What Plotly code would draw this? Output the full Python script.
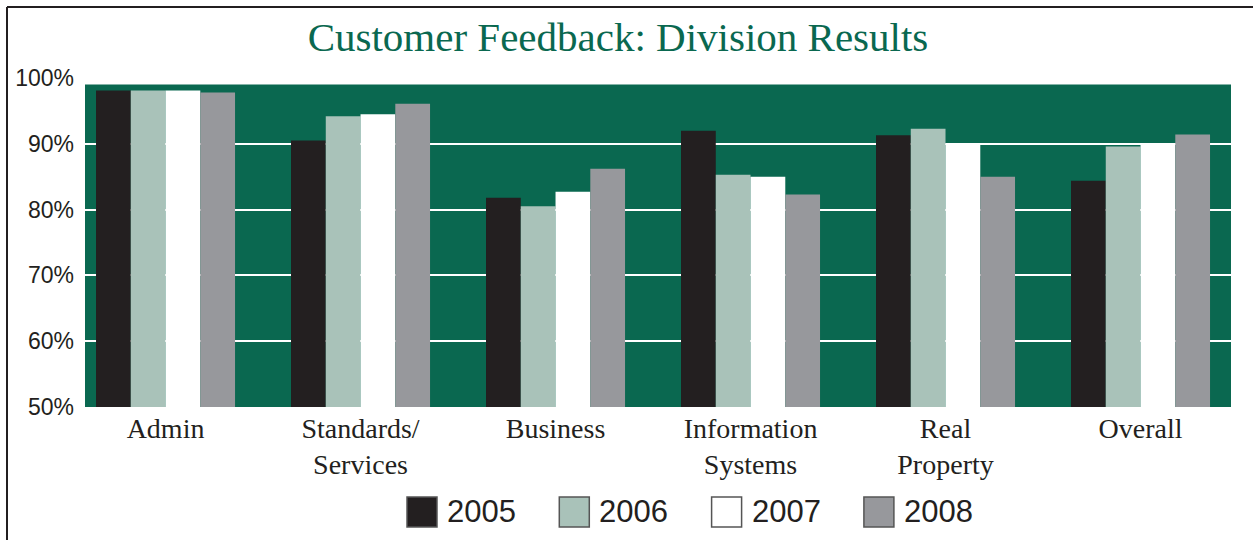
import plotly.graph_objects as go

# data
divisions = ["Admin", "Standards/Services", "Business", "Information Systems", "Real Property", "Overall"]
division_labels = ["Admin", "Standards/<br>Services", "Business",
                   "Information<br>Systems", "Real<br>Property", "Overall"]
years = ["2005", "2006", "2007", "2008"]
y2005 = [98.1, 90.5, 81.8, 92.0, 91.3, 84.4]
y2006 = [98.1, 94.2, 80.5, 85.3, 92.3, 89.6]
y2007 = [98.1, 94.5, 82.7, 85.0, 90.0, 90.0]
y2008 = [97.8, 96.1, 86.2, 82.3, 85.0, 91.4]
series = [y2005, y2006, y2007, y2008]
tick_vals = [50, 60, 70, 80, 90, 100]
tick_text = ["50%", "60%", "70%", "80%", "90%", "100%"]
panel_top = 99.0

colors = ["#231f20", "#a9c2b9", "#ffffff", "#97989c"]
green = "#0a6850"
ink = "#231f20"

W, H = 1253, 540
ml, mr, mt, mb = 85, 22, 78, 133
pw, ph = W - ml - mr, H - mt - mb

def px_x(x):
    return (x - ml) / pw

def px_y(y):
    return (H - mb - y) / ph

fig = go.Figure()
for name, vals, col in zip(years, series, colors):
    fig.add_trace(go.Bar(x=divisions, y=vals, name=name, marker=dict(color=col, line=dict(width=0)),
                         showlegend=False))

shapes = [
    dict(type="rect", xref="paper", yref="y", x0=0, x1=1, y0=50, y1=panel_top,
         fillcolor=green, line=dict(width=0), layer="below"),
    dict(type="line", xref="paper", yref="paper", x0=px_x(7), x1=px_x(W), y0=px_y(7), y1=px_y(7),
         line=dict(color=ink, width=2)),
    dict(type="line", xref="paper", yref="paper", x0=px_x(7), x1=px_x(7), y0=px_y(7), y1=px_y(H),
         line=dict(color=ink, width=2)),
]

annotations = []
# legend drawn by hand for big swatches
for i, (name, col) in enumerate(zip(years, colors)):
    left = 407 + 152.3 * i
    shapes.append(dict(type="rect", xref="paper", yref="paper",
                       x0=px_x(left), x1=px_x(left + 30), y0=px_y(497), y1=px_y(527),
                       fillcolor=col, line=dict(color="#555555", width=1.5)))
    annotations.append(dict(x=px_x(left + 38), xref="paper", y=px_y(512), yref="paper",
                            text=name, showarrow=False, xanchor="left", yanchor="middle",
                            font=dict(family="Liberation Sans", size=31, color=ink)))

fig.update_layout(
    width=W, height=H,
    margin=dict(l=ml, r=mr, t=mt, b=mb),
    paper_bgcolor="white", plot_bgcolor="white",
    barmode="group", bargap=0.287, bargroupgap=0,
    title=dict(text="Customer Feedback: Division Results", x=618 / W, xanchor="center",
               y=1 - 37 / H, yanchor="middle", xref="container", yref="container",
               font=dict(family="Liberation Serif", size=41, color=green)),
    shapes=shapes, annotations=annotations,
)
fig.update_xaxes(type="category", range=[-0.413, 5.464], tickvals=divisions, ticktext=division_labels,
                 showgrid=False, zeroline=False, showline=False, ticks="", ticklabelstandoff=2,
                 tickfont=dict(family="Liberation Serif", size=28, color=ink))
fig.update_yaxes(range=[50, 100], tickvals=tick_vals, ticktext=tick_text,
                 showgrid=True, gridcolor="white", gridwidth=2, zeroline=False,
                 showline=False, ticks="", ticklabelstandoff=10,
                 tickfont=dict(family="Liberation Sans", size=23, color=ink))

fig.write_html("out.html", config={"displayModeBar": False},
               post_script="document.body.style.margin='0';")
